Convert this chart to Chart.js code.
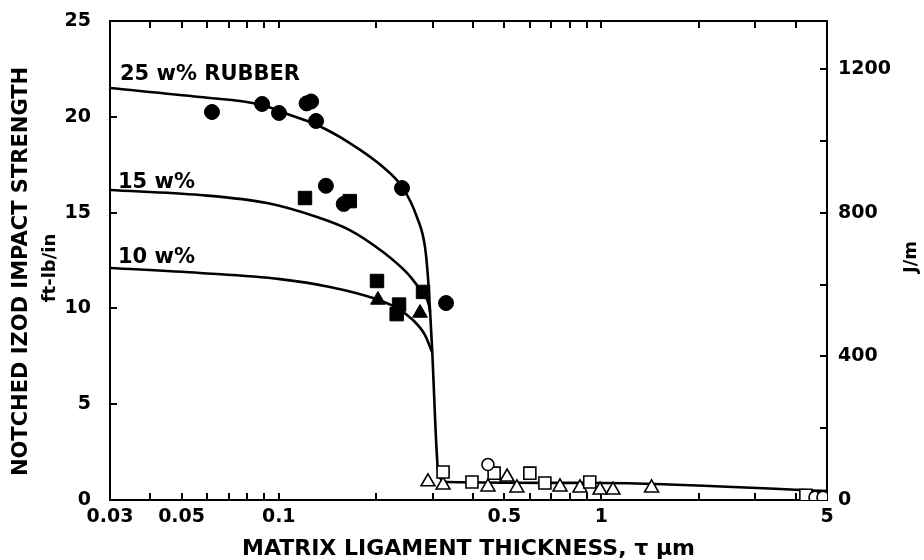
<!DOCTYPE html>
<html><head><meta charset="utf-8">
<script src="https://cdn.jsdelivr.net/npm/chart.js@4.4.0/dist/chart.umd.min.js"></script>
<style>html,body{margin:0;padding:0;background:#fff}#wrap{width:924px;height:560px}</style>
</head><body><div id="wrap"><canvas id="c" width="924" height="560"></canvas></div>
<script>
// ---------- data ----------
const xTickValues = [0.03,0.04,0.05,0.06,0.07,0.08,0.09,0.1,0.2,0.3,0.4,0.5,0.6,0.7,0.8,0.9,1,2,3,4,5];
const xLabelValues = [0.03,0.05,0.1,0.5,1,5];
const xLabelTexts = ['0.03','0.05','0.1','0.5','1','5'];
const yTickValues = [0,5,10,15,20,25];
const jmTickValues = [0,200,400,600,800,1000,1200];
const jmLabelValues = [0,400,800,1200];
const FTLB_TO_JM = 53.38;

const curve25X = [0.03,0.057,0.0888,0.1084,0.1314,0.166,0.2105,0.2427,0.268,0.284,0.290,0.2943,0.2985,0.3114,0.318,0.332,0.99,5];
const curve25Y = [21.5,21.03,20.62,20.09,19.57,18.63,17.38,16.28,14.77,13.2,11.64,9.92,7.99,1.57,1.10,0.94,0.89,0.47];
const curve15X = [0.03,0.057,0.092,0.1314,0.166,0.2105,0.2497,0.268,0.28,0.292,0.2943];
const curve15Y = [16.18,15.92,15.5,14.77,14.09,12.94,11.85,11.22,10.8,10.18,9.81];
const curve10X = [0.03,0.057,0.1009,0.144,0.196,0.2324,0.2607,0.284,0.2985];
const curve10Y = [12.11,11.85,11.53,11.12,10.54,10.02,9.39,8.61,7.72];

const fCircleX = [0.0621,0.0888,0.1002,0.122,0.126,0.1305,0.140,0.159,0.241,0.33];
const fCircleY = [20.25,20.67,20.2,20.7,20.8,19.78,16.4,15.45,16.28,10.28];
const fSquareX = [0.1206,0.166,0.2016,0.236,0.232,0.28];
const fSquareY = [15.76,15.6,11.43,10.2,9.7,10.86];
const fTriX = [0.203,0.274];
const fTriY = [10.44,9.76];

const oCircleX = [0.445,4.59,4.86];
const oCircleY = [1.85,0.15,0.15];
const oSquareX = [0.323,0.397,0.465,0.60,0.668,0.92,4.3];
const oSquareY = [1.46,0.94,1.4,1.4,0.89,0.94,0.25];
const oTriX = [0.29,0.323,0.445,0.51,0.547,0.744,0.858,0.99,1.086,1.43];
const oTriY = [0.95,0.78,0.68,1.2,0.63,0.68,0.63,0.52,0.52,0.63];

const curveLabels = ['25 w% RUBBER','15 w%','10 w%'];
const yTitle = 'NOTCHED IZOD IMPACT STRENGTH   ';
const yUnit = 'ft-lb/in';
const y2Title = 'J/m';
const xTitle = 'MATRIX LIGAMENT THICKNESS, \u03C4 \u03BCm';

// ---------- build ----------
const pts = (xs, ys) => xs.map((x, i) => ({x, y: ys[i]}));
const FONT = "'DejaVu Sans', sans-serif";

function markerSet(xs, ys, style, r, filled) {
  return {
    data: pts(xs, ys), showLine: false, pointStyle: style, pointRadius: r,
    pointBackgroundColor: filled ? '#000' : '#fff', pointBorderColor: '#000',
    pointBorderWidth: filled ? 1 : 1.6, order: 0
  };
}
function curveSet(xs, ys) {
  return {
    data: pts(xs, ys), showLine: true, pointRadius: 0, borderColor: '#000',
    borderWidth: 2.6, cubicInterpolationMode: 'monotone', fill: false, order: 5
  };
}

const textPlugin = {
  id: 'texts',
  afterDraw(chart) {
    const ctx = chart.ctx;
    const a = chart.chartArea;
    ctx.save();
    ctx.fillStyle = '#000';
    ctx.font = 'bold 21px ' + FONT;
    ctx.textBaseline = 'alphabetic';
    ctx.textAlign = 'left';
    ctx.fillText(curveLabels[0], a.left + 10, 80);
    ctx.fillText(curveLabels[1], a.left + 8, 188);
    ctx.fillText(curveLabels[2], a.left + 8, 263);
    ctx.font = 'bold 18px ' + FONT;
    ctx.textAlign = 'center';
    ctx.textBaseline = 'middle';
    ctx.save();
    ctx.translate(50, 268);
    ctx.rotate(-Math.PI / 2);
    ctx.fillText(yUnit, 0, 0);
    ctx.restore();
    ctx.save();
    ctx.translate(911, 257);
    ctx.rotate(-Math.PI / 2);
    ctx.fillText(y2Title, 0, 0);
    ctx.restore();
    ctx.restore();
  }
};

const gridCommon = {display: true, drawOnChartArea: false, drawTicks: true, tickLength: -7, color: '#000', lineWidth: 2};
const borderCommon = {display: true, color: '#000', width: 2};
const tickFont = {family: FONT, size: 19, weight: 'bold'};
const noPad = s => { s.paddingTop = 0; s.paddingBottom = 0; s.paddingLeft = 0; s.paddingRight = 0; };

new Chart(document.getElementById('c'), {
  type: 'scatter',
  data: {
    datasets: [
      markerSet(fCircleX, fCircleY, 'circle', 7.5, true),
      markerSet(fSquareX, fSquareY, 'rect', 9.5, true),
      markerSet(fTriX, fTriY, 'triangle', 8.5, true),
      markerSet(oCircleX, oCircleY, 'circle', 6, false),
      markerSet(oSquareX, oSquareY, 'rect', 8.5, false),
      markerSet(oTriX, oTriY, 'triangle', 8, false),
      curveSet(curve25X, curve25Y),
      curveSet(curve15X, curve15Y),
      curveSet(curve10X, curve10Y)
    ]
  },
  options: {
    responsive: false,
    animation: false,
    events: [],
    layout: {padding: 0},
    plugins: {legend: {display: false}, tooltip: {enabled: false}, title: {display: false}},
    scales: {
      x: {
        type: 'logarithmic', position: 'bottom', min: 0.03, max: 5,
        afterBuildTicks: s => { s.ticks = xTickValues.map(v => ({value: v})); },
        afterFit: s => { s.height = 60; noPad(s); },
        ticks: {
          autoSkip: false, maxRotation: 0, minRotation: 0, padding: 13, color: '#000', font: tickFont,
          callback: v => { const i = xLabelValues.indexOf(v); return i >= 0 ? xLabelTexts[i] : ''; }
        },
        grid: gridCommon, border: borderCommon,
        title: {display: true, text: xTitle, color: '#000', font: {family: FONT, size: 22, weight: 'bold', lineHeight: 1}, padding: {top: 0, bottom: 0}}
      },
      x2: {
        type: 'logarithmic', position: 'top', min: 0.03, max: 5,
        afterBuildTicks: s => { s.ticks = xTickValues.map(v => ({value: v})); },
        afterFit: s => { s.height = 21; noPad(s); },
        ticks: {display: false, autoSkip: false},
        grid: gridCommon, border: borderCommon
      },
      y: {
        type: 'linear', position: 'left', min: 0, max: 25,
        afterBuildTicks: s => { s.ticks = yTickValues.map(v => ({value: v})); },
        afterFit: s => { s.width = 110; noPad(s); },
        ticks: {padding: 26, color: '#000', font: tickFont, callback: v => String(v)},
        grid: gridCommon, border: borderCommon,
        title: {display: true, text: yTitle, color: '#000', font: {family: FONT, size: 21, weight: 'bold', lineHeight: 1}, padding: {top: 11, bottom: 0}}
      },
      y2: {
        type: 'linear', position: 'right', min: 0, max: 25 * FTLB_TO_JM,
        afterBuildTicks: s => { s.ticks = jmTickValues.map(v => ({value: v})); },
        afterFit: s => { s.width = 97; noPad(s); },
        ticks: {padding: 18, color: '#000', font: tickFont,
          callback: v => jmLabelValues.indexOf(v) >= 0 ? String(v) : ''},
        grid: gridCommon, border: borderCommon
      }
    }
  },
  plugins: [textPlugin]
});
</script>
</body></html>
